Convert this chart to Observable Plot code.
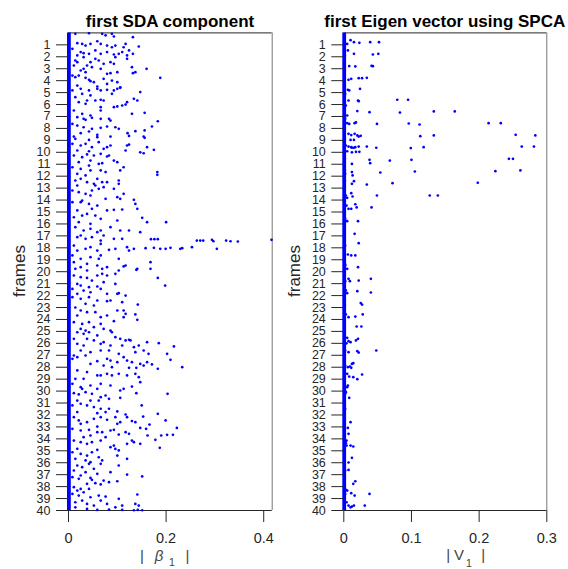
<!DOCTYPE html>
<html><head><meta charset="utf-8">
<script src="https://cdn.jsdelivr.net/npm/d3@7"></script>
<script src="https://cdn.jsdelivr.net/npm/@observablehq/plot@0.6"></script>
<style>
body{margin:0;background:#fff}
#wrap{position:relative;width:568px;height:569px;font-family:"Liberation Sans",Arial,sans-serif}
#wrap > svg{position:absolute;top:0}
</style></head><body><div id="wrap"></div>
<script>
const frameTicks=[1,2,3,4,5,6,7,8,9,10,11,12,13,14,15,16,17,18,19,20,21,22,23,24,25,26,27,28,29,30,31,32,33,34,35,36,37,38,39,40];
const sdaTicks=[0,0.2,0.4];
const spcaTicks=[0,0.1,0.2,0.3];
const zeroValue=[0];
// [frame position, |beta_1|]
const sdaPoints=[
[0.08,0.014],[0.03,0.042],[0.08,0.069],[0.2,0.076],[0.08,0.089],[0.3,0.093],[0.36,0.132],[0.86,0.018],[0.92,0.028],[0.92,0.045],[0.7,0.059],[0.92,0.066],[1.06,0.035],
[1.06,0.079],[1.2,0.089],[1.06,0.096],[0.92,0.117],[1.2,0.113],[1.14,0.144],[1.33,0.008],[1.61,0.025],[1.75,0.042],[1.7,0.031],[1.47,0.055],[1.75,0.066],[1.61,0.079],[1.81,0.093],[1.75,0.103],[1.61,0.11],[1.89,0.12],[1.47,0.124],[1.75,0.132],[1.89,0.018],
[2.31,0.014],[2.45,0.018],[2.03,0.031],[2.45,0.045],[2.17,0.055],[2.31,0.062],[2.59,0.072],[2.45,0.086],[2.59,0.093],[2.03,0.096],[2.17,0.12],[2.87,0.13],[2.73,0.011],[2.73,0.038],
[3.15,0.025],[3.01,0.031],[2.87,0.048],[3.01,0.066],[3.43,0.079],[3.37,0.086],[3.29,0.1],[3.37,0.132],[3.29,0.137],[3.01,0.16],[3.57,0.021],[3.29,0.035],[3.57,0.008],
[3.71,0.014],[3.76,0.035],[3.93,0.042],[4.04,0.045],[4.13,0.052],[3.85,0.072],[4.27,0.079],[3.99,0.089],[4.13,0.1],[4.55,0.106],[3.76,0.188],[4.41,0.018],[4.49,0.059],
[4.82,0.008],[4.68,0.025],[4.82,0.042],[4.68,0.059],[4.82,0.066],[4.77,0.079],[4.82,0.093],[4.68,0.1],[4.6,0.106],[5.1,0.089],[4.96,0.147],[5.1,0.028],[5.24,0.045],
[5.38,0.014],[5.66,0.038],[5.66,0.055],[5.6,0.066],[5.66,0.072],[5.8,0.12],[5.52,0.134],[5.66,0.141],[6.22,0.093],[6.16,0.1],[6.08,0.11],[6.0,0.117],[6.22,0.066],[5.8,0.021],[5.94,0.035],
[6.5,0.011],[6.78,0.028],[6.5,0.066],[6.69,0.156],[6.92,0.045],[7.06,0.018],[7.2,0.031],[7.28,0.035],[7.2,0.066],[7.2,0.083],[7.34,0.086],[6.78,0.13],[7.4,0.183],[7.11,0.048],
[7.62,0.008],[7.76,0.018],[7.9,0.031],[8.03,0.048],[7.95,0.066],[7.84,0.079],[7.9,0.096],[8.03,0.103],[8.4,0.121],[8.23,0.137],[7.84,0.171],[8.17,0.156],[8.4,0.025],[8.26,0.042],[8.54,0.059],[8.68,0.086],[8.63,0.124],[8.68,0.154],[8.68,0.011],[8.87,0.014],[8.96,0.042],[8.73,0.059],[8.79,0.156],
[9.29,0.008],[9.43,0.025],[9.29,0.035],[9.57,0.048],[9.15,0.062],[9.71,0.072],[9.57,0.079],[9.43,0.086],[9.43,0.12],[9.35,0.124],[9.57,0.161],[9.85,0.117],[10.0,0.147],[10.08,0.154],[9.79,0.175],[9.85,0.018],[9.91,0.042],
[10.27,0.011],[10.41,0.028],[10.18,0.038],[10.27,0.052],[10.13,0.066],[10.35,0.079],[10.27,0.083],[10.69,0.093],[10.83,0.021],[10.69,0.045],[10.97,0.062],[10.91,0.069],[10.83,0.1],
[11.25,0.008],[11.39,0.025],[11.11,0.042],[11.52,0.045],[11.52,0.066],[11.66,0.076],[11.52,0.106],[11.25,0.113],[11.66,0.182],[11.89,0.182],[11.8,0.018],[11.94,0.035],
[12.36,0.014],[12.22,0.025],[12.5,0.038],[12.64,0.052],[12.22,0.059],[12.5,0.069],[12.5,0.079],[12.36,0.103],[12.64,0.103],[12.78,0.018],[12.78,0.055],[12.92,0.072],
[13.2,0.008],[13.34,0.021],[13.48,0.035],[13.2,0.048],[13.06,0.062],[13.06,0.093],[13.48,0.113],[13.76,0.1],[13.9,0.106],[13.98,0.134],[13.9,0.076],[14.04,0.028],[13.62,0.045],
[14.18,0.008],[14.18,0.025],[14.32,0.042],[14.46,0.059],[14.32,0.137],[14.73,0.141],[14.87,0.079],[14.82,0.093],[14.79,0.11],[14.87,0.018],[14.73,0.048],
[15.44,0.011],[15.3,0.028],[15.16,0.038],[15.3,0.055],[15.57,0.066],[15.49,0.151],[15.85,0.161],[15.85,0.2],[15.71,0.1],[15.85,0.021],[15.99,0.045],
[16.27,0.014],[16.55,0.031],[16.41,0.045],[16.69,0.059],[16.55,0.066],[16.27,0.086],[16.55,0.106],[16.55,0.124],[16.69,0.147],[16.97,0.025],[16.97,0.072],
[17.11,0.018],[17.25,0.035],[17.11,0.048],[17.39,0.066],[17.25,0.093],[17.25,0.11],[17.28,0.169],[17.28,0.176],[17.28,0.183],[17.39,0.263],[17.39,0.27],[17.39,0.276],[17.33,0.294],[17.45,0.297],[17.39,0.323],[17.45,0.332],[17.47,0.347],[17.33,0.416],[17.67,0.066],[17.81,0.011],[17.95,0.045],
[18.23,0.018],[18.08,0.035],[18.23,0.059],[18.17,0.083],[18.08,0.096],[17.95,0.12],[18.23,0.124],[18.08,0.134],[18.03,0.158],[18.0,0.175],[18.08,0.188],[18.08,0.199],[18.0,0.209],[18.08,0.229],[18.03,0.233],[17.95,0.253],[18.08,0.304],[18.64,0.008],[18.92,0.025],[18.78,0.045],[18.64,0.066],[18.92,0.103],[18.92,0.062],
[19.2,0.011],[19.34,0.038],[19.48,0.059],[19.62,0.079],[19.48,0.117],[19.76,0.141],[19.2,0.168],[19.76,0.168],[19.62,0.025],[19.56,0.113],[19.84,0.139],[19.76,0.014],[19.9,0.038],[19.76,0.069],
[20.32,0.011],[20.46,0.025],[20.52,0.038],[20.32,0.059],[20.18,0.069],[20.32,0.079],[20.18,0.096],[19.9,0.103],[20.52,0.183],[21.02,0.096],[21.02,0.018],[20.74,0.048],[20.88,0.072],
[21.16,0.198],[21.16,0.025],[21.3,0.042],[21.24,0.059],[21.44,0.008],[21.58,0.031],[21.72,0.045],[21.44,0.066],[21.85,0.079],[21.85,0.1],[21.8,0.103],[22.0,0.117],[21.85,0.018],
[22.13,0.008],[22.27,0.025],[22.13,0.042],[22.41,0.059],[22.47,0.079],[22.41,0.086],[22.55,0.11],[22.75,0.142],[22.69,0.035],[22.83,0.052],[23.0,0.014],
[23.25,0.025],[23.39,0.038],[23.39,0.055],[23.25,0.1],[23.25,0.113],[23.53,0.117],[23.81,0.113],[23.58,0.137],[24.03,0.141],[23.81,0.066],[23.67,0.018],[23.67,0.079],
[24.23,0.011],[24.37,0.028],[24.23,0.042],[24.37,0.066],[24.14,0.093],[24.65,0.052],[24.79,0.072],[24.79,0.025],[24.93,0.035],[24.93,0.086],
[25.07,0.018],[25.2,0.031],[25.07,0.042],[25.34,0.059],[25.07,0.089],[25.62,0.011],[25.62,0.038],[25.76,0.052],[25.48,0.096],[25.62,0.106],[25.76,0.117],[25.7,0.124],[25.76,0.127],[25.9,0.161],[25.99,0.185],[25.9,0.072],
[26.04,0.018],[26.18,0.031],[26.04,0.066],[26.18,0.086],[26.18,0.11],[26.32,0.134],[26.18,0.144],[26.6,0.154],[26.26,0.216],[26.6,0.025],[26.74,0.045],[26.6,0.066],[26.6,0.083],[26.88,0.103],[26.74,0.137],[26.88,0.164],[26.88,0.202],[27.02,0.011],
[27.3,0.008],[27.16,0.018],[27.02,0.035],[27.49,0.059],[27.3,0.079],[27.44,0.086],[27.58,0.1],[27.16,0.113],[27.44,0.12],[27.58,0.13],[27.72,0.147],[27.58,0.161],[27.38,0.209],[27.72,0.045],[27.86,0.072],[28.0,0.089],[28.05,0.124],[28.05,0.139],[27.86,0.154],[27.77,0.171],[28.0,0.233],
[28.27,0.018],[28.41,0.038],[28.69,0.059],[28.69,0.066],[28.55,0.079],[28.69,0.089],[28.55,0.103],[28.69,0.12],[28.55,0.137],[28.83,0.144],[28.13,0.183],[28.97,0.014],[28.97,0.031],
[29.39,0.008],[29.67,0.025],[29.53,0.045],[29.39,0.066],[29.53,0.086],[29.81,0.113],[29.62,0.13],[29.25,0.147],[29.81,0.028],[29.81,0.059],[29.95,0.106],
[30.17,0.011],[30.28,0.021],[30.09,0.035],[30.23,0.048],[30.51,0.066],[30.37,0.076],[30.65,0.083],[30.56,0.106],[30.17,0.139],[30.23,0.203],[30.79,0.018],[30.79,0.045],[30.79,0.062],
[31.2,0.008],[31.06,0.025],[31.2,0.038],[31.34,0.052],[31.48,0.066],[31.76,0.076],[31.85,0.059],[31.48,0.083],[31.7,0.1],[31.2,0.15],[31.76,0.018],
[32.18,0.011],[32.46,0.021],[32.6,0.038],[32.32,0.052],[32.18,0.066],[32.4,0.079],[32.18,0.096],[32.74,0.1],[32.6,0.106],[31.96,0.117],[32.18,0.12],[32.51,0.13],[32.6,0.137],[32.13,0.153],[32.8,0.166],[31.9,0.183],[32.46,0.199],[32.74,0.025],[32.97,0.059],
[33.16,0.008],[33.3,0.025],[33.24,0.042],[33.44,0.059],[33.44,0.069],[33.3,0.086],[33.24,0.093],[33.64,0.103],[33.44,0.117],[33.58,0.124],[33.08,0.147],[33.16,0.159],[33.72,0.162],[33.72,0.19],[33.66,0.202],[33.66,0.214],[33.08,0.222],[34.08,0.178],[33.86,0.031],[33.72,0.045],[33.86,0.076],
[34.14,0.011],[34.28,0.025],[34.42,0.038],[34.28,0.048],[34.14,0.066],[34.7,0.086],[34.56,0.093],[34.84,0.096],[34.97,0.103],[34.42,0.12],[34.14,0.13],[34.28,0.134],[34.42,0.147],[34.75,0.187],[34.83,0.018],[34.92,0.059],
[35.12,0.008],[35.26,0.025],[35.4,0.038],[35.12,0.048],[35.54,0.062],[35.81,0.069],[35.4,0.1],[35.67,0.12],[35.67,0.014],[35.81,0.035],[35.95,0.045],
[36.23,0.018],[36.37,0.028],[36.09,0.042],[36.09,0.066],[36.23,0.103],[36.65,0.011],[36.79,0.035],[36.51,0.052],[36.93,0.059],[36.79,0.086],[36.99,0.12],[37.07,0.025],
[37.21,0.008],[37.35,0.021],[37.27,0.045],[37.43,0.048],[37.71,0.055],[37.49,0.072],[37.63,0.083],[37.55,0.1],[37.15,0.151],[37.77,0.038],[37.82,0.066],
[38.05,0.011],[38.33,0.018],[38.19,0.025],[38.47,0.031],[38.19,0.042],[38.61,0.008],[38.75,0.021],[38.75,0.062],[38.83,0.076],[39.02,0.103],[38.66,0.141],[38.89,0.045],
[39.31,0.014],[39.17,0.028],[39.45,0.038],[39.59,0.052],[39.17,0.066],[39.45,0.079],[39.73,0.096],[39.59,0.11],[39.45,0.137],[39.59,0.144],[39.73,0.014],[39.87,0.038],[39.95,0.059],[39.92,0.083],[39.95,0.11],[39.98,0.134],[39.95,0.142],[39.98,0.151]
];
// [frame position, |V_1|]
const spcaPoints=[
[0.61,0.01],[0.78,0.015],[0.83,0.023],[0.78,0.039],[0.78,0.052],[0.92,0.005],[1.47,0.006],[1.75,0.015],[1.81,0.043],[1.75,0.051],[1.89,0.0015],[2.78,0.008],[2.81,0.017],[2.76,0.041],[2.79,0.043],[3.93,0.007],[3.85,0.011],[3.79,0.022],[3.79,0.027],[3.76,0.034],[4.77,0.006],[4.82,0.008],[4.68,0.024],[5.1,0.002],[5.66,0.007],[5.66,0.021],[5.72,0.022],[5.6,0.079],[5.6,0.095],[6.08,0.003],[6.55,0.02],[6.64,0.038],[6.67,0.083],[6.58,0.133],[6.58,0.164],[6.92,0.005],[7.2,0.002],[7.56,0.005],[7.62,0.008],[7.56,0.016],[7.5,0.018],[7.62,0.049],[7.59,0.096],[7.67,0.112],[7.56,0.214],[7.56,0.232],[8.45,0.007],[8.56,0.011],[8.45,0.016],[8.59,0.02],[8.68,0.022],[8.62,0.025],[8.65,0.113],[8.59,0.133],[8.54,0.254],[8.59,0.283],
[8.96,0.01],[8.96,0.015],[9.43,0.003],[9.52,0.007],[9.57,0.011],[9.62,0.012],[9.62,0.015],[9.57,0.017],[9.52,0.022],[9.52,0.034],[9.62,0.048],[9.65,0.099],[9.57,0.118],[9.52,0.263],[9.52,0.281],[9.91,0.005],[10.0,0.012],[9.96,0.018],[9.96,0.023],[10.55,0.0015],[10.63,0.038],[10.91,0.039],[10.69,0.068],[10.63,0.1],[10.55,0.244],[10.55,0.25],[10.97,0.012],[11.52,0.0015],[11.66,0.012],[11.94,0.013],[11.69,0.054],[11.61,0.105],[11.58,0.224],[11.52,0.261],[11.8,0.002],[12.42,0.015],[12.64,0.012],[12.7,0.034],[12.59,0.072],[12.55,0.198],[12.36,0.0015],[13.42,0.011],[13.7,0.013],[13.62,0.049],[13.62,0.127],[13.62,0.139],[13.62,0.003],[13.81,0.005],[14.46,0.004],[14.73,0.007],[14.73,0.011],[14.35,0.017],[14.62,0.019],[14.62,0.041],[15.57,0.002],[15.77,0.005],[15.77,0.021],[16.83,0.016],[17.61,0.022],[17.81,0.002],[18.56,0.006],[18.64,0.011],[18.64,0.017],[19.48,0.002],[19.76,0.005],[19.62,0.021],
[19.4,0.002],[20.6,0.007],[20.79,0.009],[20.74,0.022],[20.6,0.04],[20.79,0.002],[21.57,0.003],[21.8,0.005],[21.63,0.02],[21.74,0.04],[22.63,0.025],[22.75,0.027],[22.83,0.0015],[23.58,0.003],[23.81,0.007],[23.76,0.017],[23.58,0.028],[24.59,0.019],[24.59,0.026],[25.54,0.005],[25.82,0.007],[25.9,0.01],[25.76,0.018],[25.62,0.021],[26.0,0.004],[26.6,0.002],[26.74,0.007],[26.66,0.02],[26.77,0.022],[26.6,0.048],[27.86,0.002],[28.0,0.006],[27.94,0.009],[27.72,0.012],[28.05,0.011],[27.66,0.014],[28.55,0.005],[28.78,0.008],[28.83,0.014],[28.61,0.027],[29.0,0.02],[29.53,0.006],[29.67,0.005],[30.03,0.002],[30.56,0.008],
[30.09,0.003],[30.23,0.002],[31.48,0.002],[32.6,0.01],[33.08,0.006],[33.58,0.007],[34.14,0.004],[34.36,0.003],[34.56,0.004],[34.56,0.01],[34.64,0.014],[35.59,0.012],[35.98,0.007],[36.65,0.002],[36.6,0.007],[37.43,0.0015],[37.55,0.017],[37.77,0.014],[38.27,0.003],[38.61,0.002],[38.33,0.005],[38.55,0.011],[38.75,0.016],[38.61,0.038],[39.31,0.004],[39.59,0.007],[39.73,0.01],[39.67,0.012],[39.59,0.015],[39.59,0.031],[39.87,0.0015]
];

const FONT='"Liberation Sans", Arial, Helvetica, sans-serif';
function panel({points, domain, ticks, marginLeft, marginRight}) {
  return Plot.plot({
    width: 284, height: 569,
    marginLeft, marginRight, marginTop: 32.4, marginBottom: 59,
    style: {fontFamily: FONT, color: "#262626", background: "transparent", overflow: "visible"},
    x: {domain, label: null},
    y: {domain: [0, 40], reverse: true, label: null},
    marks: [
      Plot.ruleY([0, 40], {stroke: "#262626"}),
      Plot.ruleX([domain[1]], {stroke: "#777"}),
      Plot.ruleX(zeroValue, {stroke: "#0000ff", strokeWidth: 3.8, dx: 0.4}),
      Plot.dot(points, {x: d => d[1], y: d => d[0], r: 1.35, fill: "#0000ff", stroke: "none"}),
      Plot.axisY({ticks: frameTicks, tickSize: 12, tickPadding: 6, fontSize: 12.5, label: null, stroke: "#262626"}),
      Plot.axisX({ticks, tickSize: 12, tickPadding: 10, fontSize: 14.5, label: null, tickFormat: d => String(d), stroke: "#262626"})
    ]
  });
}
const wrap = document.getElementById("wrap");
const left = panel({points: sdaPoints, domain: [0, 0.4174], ticks: sdaTicks, marginLeft: 68, marginRight: 12.3});
left.style.left = "0px";
const right = panel({points: spcaPoints, domain: [0, 0.3], ticks: spcaTicks, marginLeft: 59.3, marginRight: 21.7});
right.style.left = "284px";
wrap.appendChild(left);
wrap.appendChild(right);

const NS = "http://www.w3.org/2000/svg";
const ov = document.createElementNS(NS, "svg");
ov.setAttribute("width", 568); ov.setAttribute("height", 569);
ov.style.left = "0px"; ov.style.pointerEvents = "none";
ov.setAttribute("font-family", FONT);
function txt(s, x, y, opts = {}) {
  const t = document.createElementNS(NS, "text");
  t.setAttribute("x", x); t.setAttribute("y", y);
  t.setAttribute("text-anchor", opts.anchor || "middle");
  t.setAttribute("font-size", opts.size || 14);
  t.setAttribute("fill", opts.fill || "#262626");
  if (opts.weight) t.setAttribute("font-weight", opts.weight);
  if (opts.italic) t.setAttribute("font-style", "italic");
  if (opts.transform) t.setAttribute("transform", opts.transform);
  t.textContent = s;
  ov.appendChild(t);
}
txt("first SDA component", 170, 26.5, {size: 17, weight: "bold", fill: "#000"});
txt("first Eigen vector using SPCA", 444.8, 26.5, {size: 17, weight: "bold", fill: "#000"});
txt("frames", 0, 0, {size: 17, transform: "translate(25,271) rotate(-90)"});
txt("frames", 0, 0, {size: 17, transform: "translate(300,271) rotate(-90)"});
// | β1 |
txt("|", 142, 561, {size: 15, fill: "#444"});
txt("β", 159, 561, {size: 15, italic: true, fill: "#444"});
txt("1", 172, 566, {size: 10.5, fill: "#444"});
txt("|", 187.5, 561, {size: 15, fill: "#444"});
// | V1 |
txt("|", 448.3, 560, {size: 15, fill: "#444"});
txt("V", 459, 560, {size: 15, fill: "#444"});
txt("1", 469, 567, {size: 10.5, fill: "#444"});
txt("|", 483.3, 560, {size: 15, fill: "#444"});
wrap.appendChild(ov);
</script></body></html>
